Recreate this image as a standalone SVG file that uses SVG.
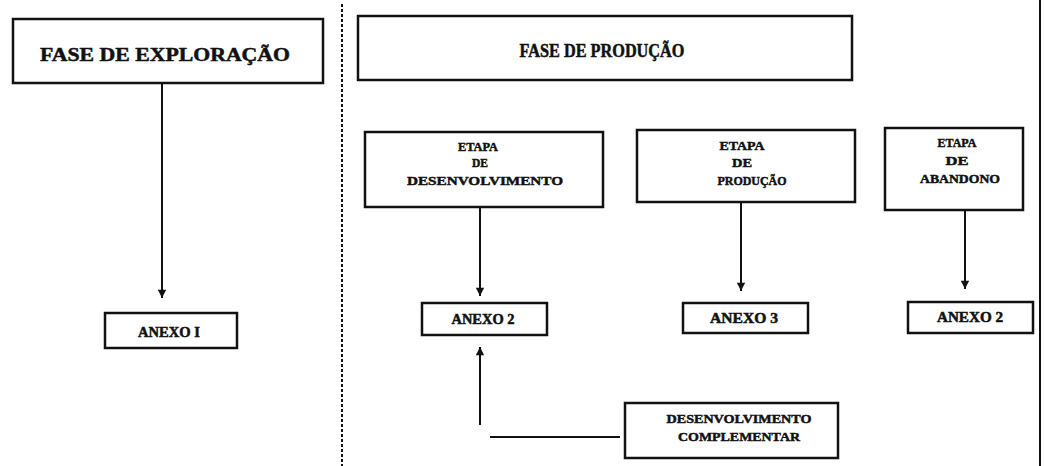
<svg xmlns="http://www.w3.org/2000/svg" width="1044" height="466" viewBox="0 0 1044 466">
<style>
.box{fill:#fff;stroke:#111;stroke-width:2.5}
.t{font-family:"Liberation Serif","Times New Roman",serif;font-weight:bold;fill:#111;stroke:#111;stroke-width:0.5;text-anchor:middle}
.big{font-size:19px}
.sm{font-size:13.5px}
.an{font-size:14px}
.ln{stroke:#111;stroke-width:2;fill:none}
</style>
<defs>
<marker id="ah" viewBox="0 0 10 12" refX="10" refY="6" markerWidth="12" markerHeight="10" markerUnits="userSpaceOnUse" orient="auto">
<path d="M0,1 L10,6 L0,11 Z" fill="#111"/>
</marker>
</defs>
<rect width="1044" height="466" fill="#fff"/>
<line x1="1040" y1="0" x2="1040" y2="466" stroke="#111" stroke-width="2"/>
<line x1="342" y1="4" x2="342" y2="466" stroke="#111" stroke-width="2" stroke-dasharray="3 2"/>
<g id="connectors">
<line class="ln" x1="162" y1="84" x2="162" y2="298" marker-end="url(#ah)"/>
<line class="ln" x1="480" y1="207" x2="480" y2="296" marker-end="url(#ah)"/>
<line class="ln" x1="741" y1="202" x2="741" y2="291" marker-end="url(#ah)"/>
<line class="ln" x1="965" y1="210" x2="965" y2="289" marker-end="url(#ah)"/>
<line class="ln" x1="480" y1="425" x2="480" y2="347" marker-end="url(#ah)"/>
<line class="ln" x1="490" y1="437" x2="620" y2="437" stroke-width="2.5"/>
</g>
<g id="fase-exploracao">
<rect class="box" x="13" y="19" width="310" height="64"/>
<text class="t big" x="165" y="61" textLength="250" lengthAdjust="spacingAndGlyphs">FASE DE EXPLORAÇÃO</text>
</g>
<g id="fase-producao">
<rect class="box" x="358" y="16" width="494" height="64"/>
<text class="t big" x="602" y="57" textLength="165" lengthAdjust="spacingAndGlyphs">FASE DE PRODUÇÃO</text>
</g>
<g id="etapa-desenvolvimento">
<rect class="box" x="365" y="132" width="238" height="75"/>
<text class="t sm" x="478" y="151" textLength="40" lengthAdjust="spacingAndGlyphs">ETAPA</text>
<text class="t sm" x="480" y="167" textLength="16" lengthAdjust="spacingAndGlyphs">DE</text>
<text class="t sm" x="485" y="185" textLength="156" lengthAdjust="spacingAndGlyphs">DESENVOLVIMENTO</text>
</g>
<g id="etapa-producao">
<rect class="box" x="637" y="130" width="218" height="72"/>
<text class="t sm" x="742" y="150" textLength="45" lengthAdjust="spacingAndGlyphs">ETAPA</text>
<text class="t sm" x="742" y="167" textLength="20" lengthAdjust="spacingAndGlyphs">DE</text>
<text class="t sm" x="752" y="185" textLength="69" lengthAdjust="spacingAndGlyphs">PRODUÇÃO</text>
</g>
<g id="etapa-abandono">
<rect class="box" x="885" y="128" width="138" height="82"/>
<text class="t sm" x="957" y="147" textLength="39" lengthAdjust="spacingAndGlyphs">ETAPA</text>
<text class="t sm" x="957" y="165" textLength="23" lengthAdjust="spacingAndGlyphs">DE</text>
<text class="t sm" x="960" y="183" textLength="80" lengthAdjust="spacingAndGlyphs">ABANDONO</text>
</g>
<g id="anexo-1">
<rect class="box" x="105" y="313" width="132" height="35"/>
<text class="t an" x="169" y="337" textLength="62" lengthAdjust="spacingAndGlyphs">ANEXO I</text>
</g>
<g id="anexo-2">
<rect class="box" x="422" y="303" width="125" height="32"/>
<text class="t an" x="483" y="324" textLength="63" lengthAdjust="spacingAndGlyphs">ANEXO 2</text>
</g>
<g id="anexo-3">
<rect class="box" x="683" y="303" width="125" height="30"/>
<text class="t an" x="744" y="323" textLength="68" lengthAdjust="spacingAndGlyphs">ANEXO 3</text>
</g>
<g id="anexo-4">
<rect class="box" x="908" y="302" width="125" height="31"/>
<text class="t an" x="970" y="322" textLength="66" lengthAdjust="spacingAndGlyphs">ANEXO 2</text>
</g>
<g id="desenvolvimento-complementar">
<rect class="box" x="625" y="403" width="213" height="55"/>
<text class="t sm" x="739" y="423" textLength="145" lengthAdjust="spacingAndGlyphs">DESENVOLVIMENTO</text>
<text class="t sm" x="739" y="441" textLength="122" lengthAdjust="spacingAndGlyphs">COMPLEMENTAR</text>
</g>
</svg>
